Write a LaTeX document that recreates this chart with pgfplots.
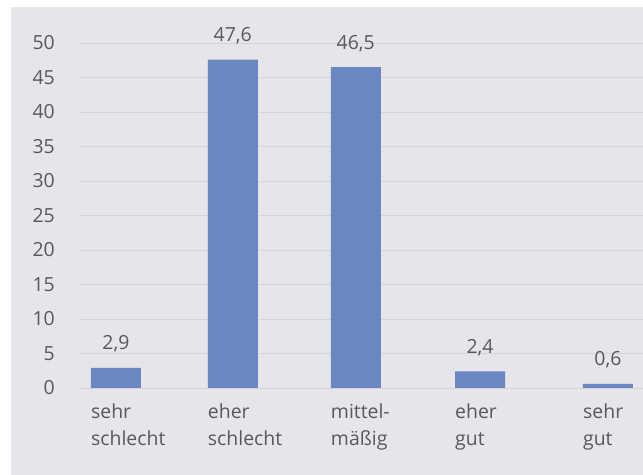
\documentclass[border=0pt]{standalone}
\usepackage{pgfplots}
\pgfplotsset{compat=1.18}
\usepackage{fontspec}
\setmainfont{Open Sans}
\definecolor{bgc}{HTML}{E6E5EA}
\definecolor{barc}{HTML}{6A86C3}
\definecolor{txtc}{HTML}{595959}
\definecolor{gridc}{HTML}{D5D4D9}

\begin{document}
\begin{tikzpicture}[x=1bp,y=1bp]
\useasboundingbox (0,0) rectangle (643,475);
\fill[white] (0,0) rectangle (643,475);
\fill[bgc] (11,0) rectangle (643,468);
\begin{axis}[
	at={(79bp,87bp)}, anchor=south west,
	scale only axis,
	width=564bp, height=345bp,
	xmin=-0.30, xmax=4.285,
	ymin=0, ymax=50,
	clip=false,
	axis line style={draw=none},
	major tick style={draw=none},
	ymajorgrids,
	grid style={gridc, line width=0.8pt},
	ytick={0,5,...,50},
	xtick=data,
	xticklabels={{sehr\\schlecht},{eher\\schlecht},{mittel-\\mäßig},{eher\\gut},{sehr\\gut}},
	font=\fontsize{19.5}{27}\selectfont,
	/pgf/number format/assume math mode=true,
	xticklabel style={align=left, anchor=north west, inner sep=0pt, xshift=-25bp, yshift=-11bp, text=txtc},
	yticklabel style={anchor=east, inner sep=0pt, xshift=-24bp, text=txtc},
	ybar, bar width=50bp,
	nodes near coords,
	nodes near coords style={anchor=base, yshift=18bp, text=txtc,
		/pgf/number format/.cd, use comma, fixed, fixed zerofill, precision=1},
]
% categories sit at slightly uneven spacing in the original
\addplot[fill=barc, draw=none] coordinates {(0,2.9) (0.95,47.6) (1.95,46.5) (2.96,2.4) (4,0.6)};
\end{axis}
\end{tikzpicture}
\end{document}
